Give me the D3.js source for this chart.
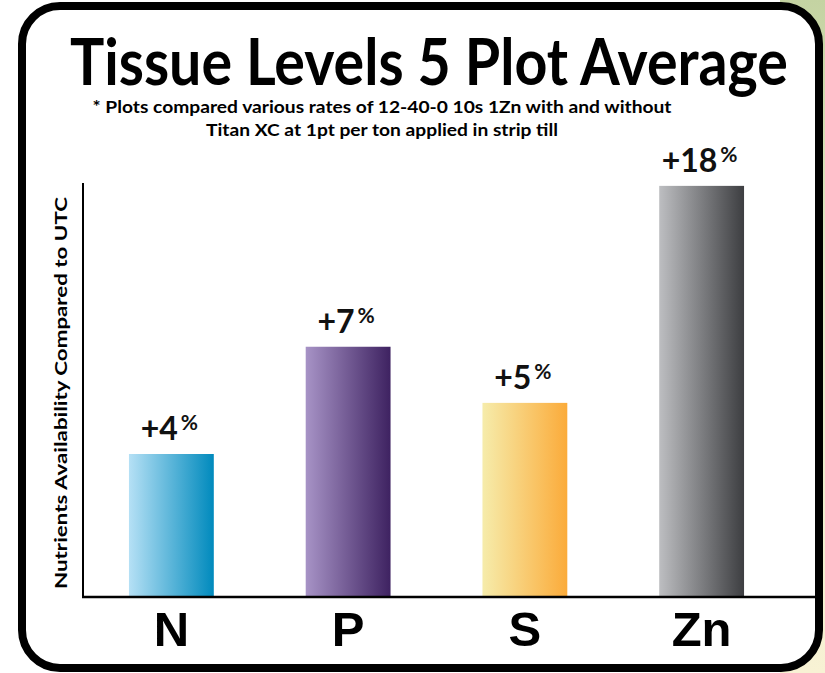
<!DOCTYPE html>
<html>
<head>
  <meta charset="utf-8">
  <title>Tissue Levels 5 Plot Average</title>
  <script src="https://d3js.org/d3.v7.min.js"></script>
  <style>
    body { margin: 0; background: #fff; }
    svg { display: block; }
  </style>
</head>
<body>
  <svg width="825" height="673"></svg>
  <script>
    // nutrients on the x axis
    var nutrients = ["N", "P", "S", "Zn"];
    // bar heights as drawn (the source chart is not to scale)
    var barHeights = [4, 7, 5.43, 11.5];
    // printed labels above the bars (% change vs UTC)
    var pctLabels = ["4", "7", "5", "18"];
    // gradient stops for each bar, light -> dark
    var barColors = [
      ["#b5e0f5", "#008abd"],
      ["#a793c6", "#3e2261"],
      ["#f6ecab", "#fbab3a"],
      ["#bdbec1", "#3d3e41"]
    ];

    var svg = d3.select("svg");
    var defs = svg.append("defs");

    // greenish / cream background that peeks out at the right edge
    var bg = defs.append("linearGradient").attr("id", "bg")
        .attr("x1", 0).attr("y1", 0).attr("x2", 0).attr("y2", 1);
    bg.append("stop").attr("offset", "0%").attr("stop-color", "#c4d3a2");
    bg.append("stop").attr("offset", "40%").attr("stop-color", "#e3e8c6");
    bg.append("stop").attr("offset", "100%").attr("stop-color", "#f8f2d4");
    svg.append("rect")
        .attr("x", 780).attr("y", 0).attr("width", 45).attr("height", 673)
        .attr("fill", "url(#bg)");

    // rounded frame
    svg.append("rect")
        .attr("x", 22).attr("y", 6)
        .attr("width", 797).attr("height", 662)
        .attr("rx", 38).attr("ry", 38)
        .attr("fill", "#fff")
        .attr("stroke", "#000")
        .attr("stroke-width", 8);

    var left = 83, right = 815, bottom = 597, axisTop = 183;

    var x = d3.scaleBand()
        .domain(nutrients)
        .range([left, 790])
        .paddingInner(0.52)
        .paddingOuter(0.26);

    var y = d3.scaleLinear()
        .domain([0, 12])
        .range([bottom, 168]);

    // bar gradients
    nutrients.forEach(function(n, i) {
      var g = defs.append("linearGradient").attr("id", "grad" + i)
          .attr("x1", 0).attr("y1", 0).attr("x2", 1).attr("y2", 0);
      g.append("stop").attr("offset", "0%").attr("stop-color", barColors[i][0]);
      g.append("stop").attr("offset", "100%").attr("stop-color", barColors[i][1]);
    });

    var data = nutrients.map(function(n, i) {
      return {name: n, h: barHeights[i], label: pctLabels[i], i: i};
    });

    // titles
    svg.append("text")
        .attr("x", 429).attr("y", 85)
        .attr("text-anchor", "middle")
        .attr("font-family", "Lato, 'Open Sans', sans-serif")
        .attr("font-weight", 700)
        .attr("font-size", 65)
        .attr("textLength", 718)
        .attr("lengthAdjust", "spacingAndGlyphs")
        .text("Tissue Levels 5 Plot Average");

    var sub = [
      {t: "* Plots compared various rates of 12-40-0 10s 1Zn with and without", y: 113, w: 579},
      {t: "Titan XC at 1pt per ton applied in strip till", y: 136, w: 352}
    ];
    svg.selectAll(".sub")
        .data(sub)
      .enter().append("text")
        .attr("class", "sub")
        .attr("x", 382)
        .attr("y", function(d) { return d.y; })
        .attr("text-anchor", "middle")
        .attr("font-family", "Lato, 'Open Sans', sans-serif")
        .attr("font-weight", 700)
        .attr("font-size", 17)
        .attr("textLength", function(d) { return d.w; })
        .attr("lengthAdjust", "spacingAndGlyphs")
        .text(function(d) { return d.t; });

    // y axis title
    svg.append("text")
        .attr("transform", "translate(67,393) rotate(-90)")
        .attr("text-anchor", "middle")
        .attr("font-family", "Lato, 'Open Sans', sans-serif")
        .attr("font-weight", 700)
        .attr("font-size", 17.5)
        .attr("textLength", 392)
        .attr("lengthAdjust", "spacingAndGlyphs")
        .text("Nutrients  Availability Compared to UTC");

    // bars
    svg.selectAll(".bar")
        .data(data)
      .enter().append("rect")
        .attr("class", "bar")
        .attr("x", function(d) { return x(d.name); })
        .attr("y", function(d) { return y(d.h); })
        .attr("width", x.bandwidth())
        .attr("height", function(d) { return y(0) - y(d.h); })
        .attr("fill", function(d) { return "url(#grad" + d.i + ")"; });

    // value labels
    var lab = svg.selectAll(".val")
        .data(data)
      .enter().append("text")
        .attr("class", "val")
        .attr("x", function(d) { return x(d.name) + x.bandwidth() / 2 - 2; })
        .attr("y", function(d) { return y(d.h) - 14; })
        .attr("text-anchor", "middle")
        .attr("font-family", "Lato, 'Open Sans', sans-serif")
        .attr("font-weight", 700)
        .attr("fill", "#111");
    lab.append("tspan")
        .attr("font-size", 32)
        .text(function(d) { return "+" + d.label; });
    lab.append("tspan")
        .attr("font-size", 21)
        .attr("dx", 3)
        .attr("dy", -10)
        .text("%");

    // axes lines
    svg.append("line")
        .attr("x1", left).attr("x2", left)
        .attr("y1", axisTop).attr("y2", bottom + 1)
        .attr("stroke", "#000").attr("stroke-width", 2);
    svg.append("line")
        .attr("x1", left - 1).attr("x2", right)
        .attr("y1", bottom).attr("y2", bottom)
        .attr("stroke", "#000").attr("stroke-width", 2.5);

    // category labels
    var xAxis = svg.append("g")
        .attr("transform", "translate(0," + bottom + ")")
        .call(d3.axisBottom(x).tickSize(0).tickPadding(14));
    xAxis.select(".domain").remove();
    xAxis.selectAll("text")
        .attr("dy", "0.71em")
        .attr("font-family", "'Liberation Sans', Arial, sans-serif")
        .attr("font-weight", 700)
        .attr("font-size", 49)
        .attr("fill", "#000");
  </script>
</body>
</html>
